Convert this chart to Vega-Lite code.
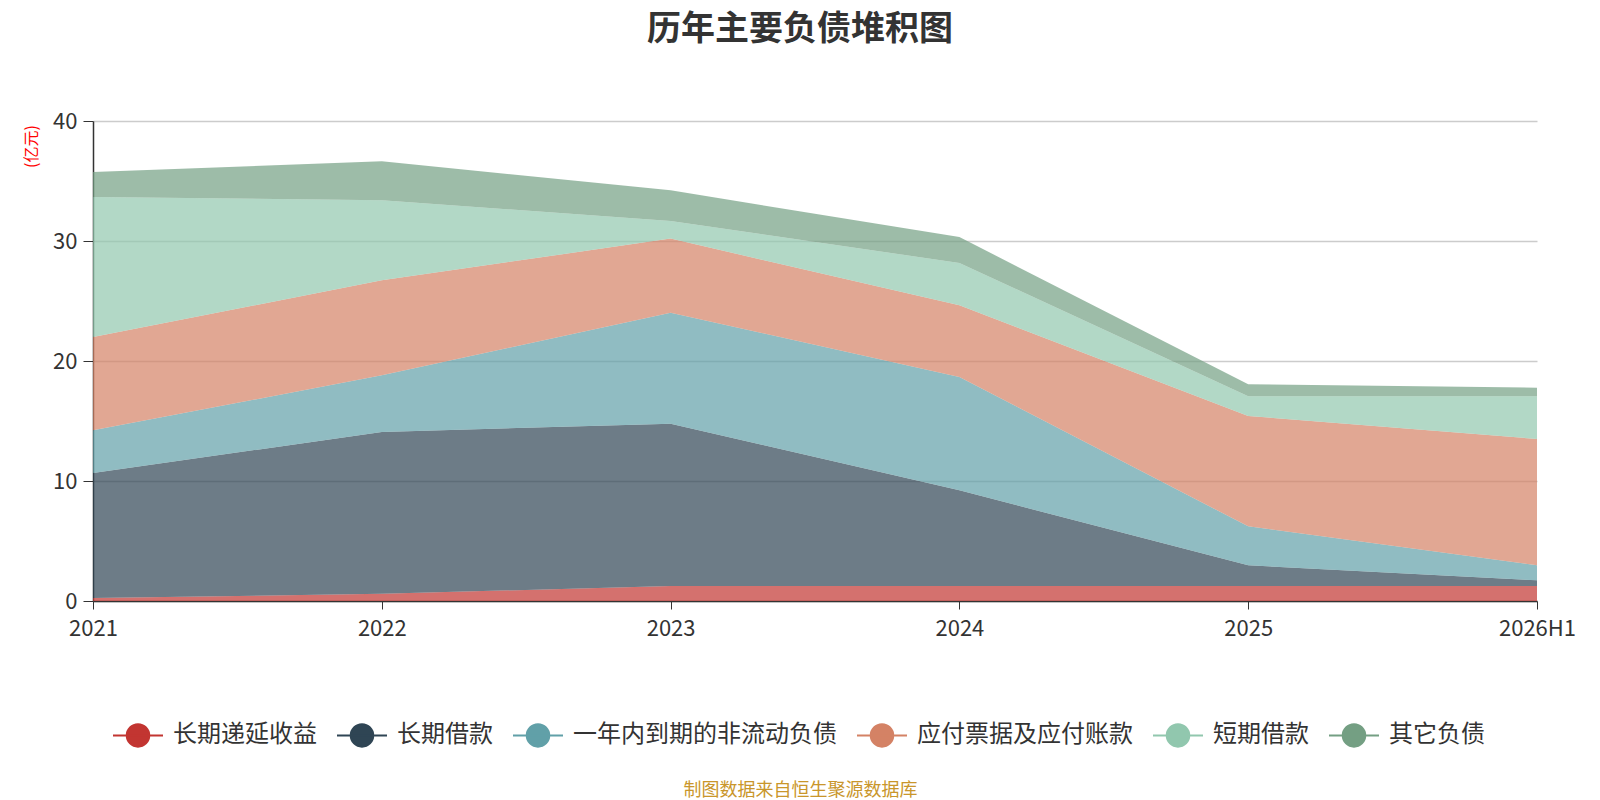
{
  "$schema": "https://vega.github.io/schema/vega-lite/v6.json",
  "autosize": "none",
  "width": 1444,
  "height": 480,
  "padding": {"left": 93, "top": 121, "right": 63, "bottom": 199},
  "background": "#ffffff",
  "config": {
    "font": "Noto Sans CJK SC",
    "view": {"stroke": null}
  },
  "title": {
    "text": "历年主要负债堆积图",
    "anchor": "middle",
    "dx": -15,
    "fontSize": 34,
    "fontWeight": "bold",
    "color": "#333333",
    "offset": 63
  },
  "data": {
    "values": [
      {"year": "2021", "item": "长期递延收益", "k": 1, "value": 0.25},
      {"year": "2022", "item": "长期递延收益", "k": 1, "value": 0.6},
      {"year": "2023", "item": "长期递延收益", "k": 1, "value": 1.25},
      {"year": "2024", "item": "长期递延收益", "k": 1, "value": 1.25},
      {"year": "2025", "item": "长期递延收益", "k": 1, "value": 1.25},
      {"year": "2026H1", "item": "长期递延收益", "k": 1, "value": 1.25},
      {"year": "2021", "item": "长期借款", "k": 2, "value": 10.42},
      {"year": "2022", "item": "长期借款", "k": 2, "value": 13.48},
      {"year": "2023", "item": "长期借款", "k": 2, "value": 13.53},
      {"year": "2024", "item": "长期借款", "k": 2, "value": 7.97},
      {"year": "2025", "item": "长期借款", "k": 2, "value": 1.72},
      {"year": "2026H1", "item": "长期借款", "k": 2, "value": 0.47},
      {"year": "2021", "item": "一年内到期的非流动负债", "k": 3, "value": 3.55},
      {"year": "2022", "item": "一年内到期的非流动负债", "k": 3, "value": 4.73},
      {"year": "2023", "item": "一年内到期的非流动负债", "k": 3, "value": 9.25},
      {"year": "2024", "item": "一年内到期的非流动负债", "k": 3, "value": 9.45},
      {"year": "2025", "item": "一年内到期的非流动负债", "k": 3, "value": 3.25},
      {"year": "2026H1", "item": "一年内到期的非流动负债", "k": 3, "value": 1.25},
      {"year": "2021", "item": "应付票据及应付账款", "k": 4, "value": 7.78},
      {"year": "2022", "item": "应付票据及应付账款", "k": 4, "value": 7.91},
      {"year": "2023", "item": "应付票据及应付账款", "k": 4, "value": 6.17},
      {"year": "2024", "item": "应付票据及应付账款", "k": 4, "value": 5.97},
      {"year": "2025", "item": "应付票据及应付账款", "k": 4, "value": 9.2},
      {"year": "2026H1", "item": "应付票据及应付账款", "k": 4, "value": 10.53},
      {"year": "2021", "item": "短期借款", "k": 5, "value": 11.67},
      {"year": "2022", "item": "短期借款", "k": 5, "value": 6.67},
      {"year": "2023", "item": "短期借款", "k": 5, "value": 1.47},
      {"year": "2024", "item": "短期借款", "k": 5, "value": 3.53},
      {"year": "2025", "item": "短期借款", "k": 5, "value": 1.64},
      {"year": "2026H1", "item": "短期借款", "k": 5, "value": 3.56},
      {"year": "2021", "item": "其它负债", "k": 6, "value": 2.08},
      {"year": "2022", "item": "其它负债", "k": 6, "value": 3.25},
      {"year": "2023", "item": "其它负债", "k": 6, "value": 2.55},
      {"year": "2024", "item": "其它负债", "k": 6, "value": 2.16},
      {"year": "2025", "item": "其它负债", "k": 6, "value": 1.0},
      {"year": "2026H1", "item": "其它负债", "k": 6, "value": 0.72}
    ]
  },
  "mark": {"type": "area", "opacity": 0.7, "interpolate": "linear"},
  "encoding": {
    "x": {
      "field": "year",
      "type": "ordinal",
      "scale": {"type": "point", "padding": 0, "domain": ["2021", "2022", "2023", "2024", "2025", "2026H1"]},
      "axis": {
        "title": "制图数据来自恒生聚源数据库",
        "titleFontSize": 18,
        "titleFontWeight": "normal",
        "titleColor": "#c9962b",
        "titleX": 707,
        "titleY": 189,
        "titleAlign": "center",
        "titleBaseline": "middle",
        "labelAngle": 0,
        "labelFontSize": 22,
        "labelColor": "#333333",
        "labelPadding": 9,
        "tickSize": 8,
        "tickColor": "#333333",
        "domainColor": "#333333",
        "domainWidth": 1.5,
        "grid": false
      }
    },
    "y": {
      "field": "value",
      "type": "quantitative",
      "stack": "zero",
      "scale": {"domain": [0, 40]},
      "axis": {
        "title": "(亿元)",
        "titleColor": "#ff0000",
        "titleFontSize": 16,
        "titleFontWeight": "normal",
        "titleX": -62,
        "titleY": 25,
        "titleAngle": -90,
        "titleAlign": "center",
        "titleBaseline": "middle",
        "values": [0, 10, 20, 30, 40],
        "labelFontSize": 22,
        "labelColor": "#333333",
        "labelPadding": 6,
        "tickSize": 10,
        "tickColor": "#333333",
        "domainColor": "#333333",
        "domainWidth": 1.5,
        "gridColor": "#cccccc",
        "gridWidth": 1.5
      }
    },
    "color": {
      "field": "item",
      "type": "nominal",
      "scale": {
        "domain": ["长期递延收益", "长期借款", "一年内到期的非流动负债", "应付票据及应付账款", "短期借款", "其它负债"],
        "range": ["#c23531", "#2f4554", "#61a0a8", "#d48265", "#91c7ae", "#749f83"]
      },
      "legend": {
        "title": null,
        "orient": "none",
        "direction": "horizontal",
        "legendX": 19,
        "legendY": 588,
        "padding": 0,
        "symbolType": "M-1,0H1M0.45,0A0.45,0.45,0,1,1,-0.45,0A0.45,0.45,0,1,1,0.45,0Z",
        "symbolSize": 2500,
        "symbolOpacity": 1,
        "symbolStrokeWidth": 2,
        "labelFontSize": 24,
        "labelColor": "#333333",
        "labelOffset": 9,
        "labelLimit": 0,
        "columnPadding": 16,
        "encode": {
          "symbols": {
            "update": {
              "stroke": {"scale": "color", "field": "value"},
              "fill": {"scale": "color", "field": "value"},
              "opacity": {"value": 1}
            }
          }
        }
      }
    },
    "order": {"field": "k", "type": "quantitative"}
  }
}
